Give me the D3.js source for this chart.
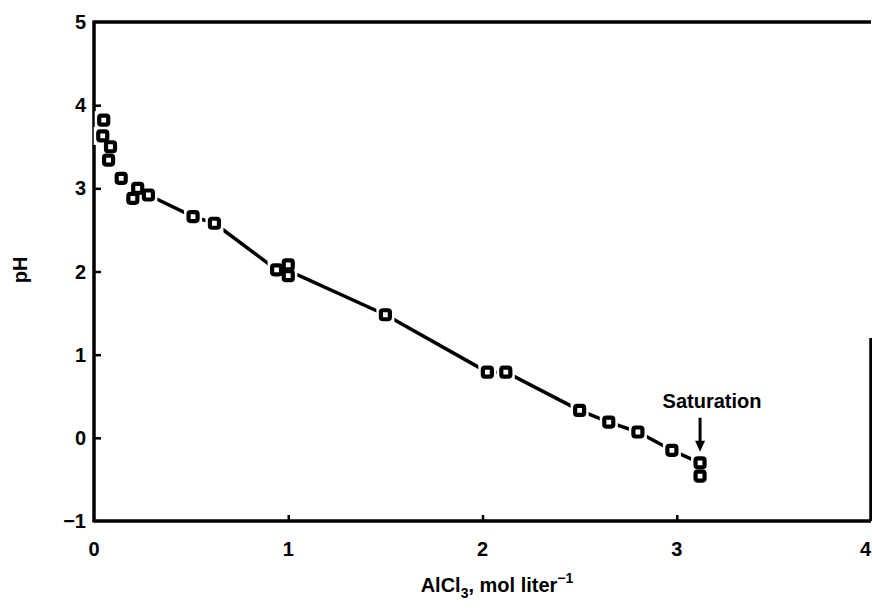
<!DOCTYPE html>
<html>
<head>
<meta charset="utf-8">
<script src="https://cdn.jsdelivr.net/npm/d3@7"></script>
<style>
    body { margin: 0; background: #fff; }
    .tickLabel { font-family: "Liberation Sans", Arial, sans-serif; font-weight: bold; font-size: 20px; fill: #000; }
</style>
</head>
<body>
<div id="chart"></div>
<script>
// AlCl3 concentration (mol/l) vs pH
const conc = [0.05, 0.045, 0.085, 0.075, 0.14, 0.225, 0.20, 0.28, 0.51, 0.62, 0.94, 1.0, 1.0, 1.5, 2.025, 2.12, 2.5, 2.65, 2.8, 2.975, 3.12, 3.12];
const ph = [3.82, 3.63, 3.50, 3.34, 3.12, 3.00, 2.88, 2.92, 2.66, 2.58, 2.02, 2.08, 1.95, 1.48, 0.79, 0.79, 0.33, 0.19, 0.07, -0.15, -0.30, -0.46];

// points the hand drawn curve passes through
const curveX = [0.28, 0.51, 0.62, 0.94, 1.0, 1.5, 2.025, 2.12, 2.5, 2.65, 2.8, 2.975, 3.12];
const curveY = [2.92, 2.66, 2.58, 2.02, 2.01, 1.48, 0.79, 0.79, 0.33, 0.19, 0.07, -0.15, -0.30];

const xTicks = [0, 1, 2, 3, 4];
const yTicks = [-1, 0, 1, 2, 3, 4, 5];
const yTickLabels = ["\u22121", "0", "1", "2", "3", "4", "5"];

const width = 872, height = 612;

let svg = d3.select("#chart").append("svg")
    .attr("width", width)
    .attr("height", height);

let x = d3.scaleLinear().domain([0, 4]).range([94, 871]);
let y = d3.scaleLinear().domain([-1, 5]).range([521, 22]);

// frame (right side only visible in the lower part of the scan)
let frame = svg.append("g")
    .attr("stroke", "#000")
    .attr("stroke-width", 3.5)
    .attr("fill", "none");
frame.append("line").attr("x1", x(0)).attr("x2", x(4)).attr("y1", y(5)).attr("y2", y(5));
frame.append("line").attr("x1", x(0)).attr("x2", x(0)).attr("y1", y(5) - 1.5).attr("y2", y(-1) + 1.5);
frame.append("line").attr("x1", x(0)).attr("x2", x(4)).attr("y1", y(-1)).attr("y2", y(-1));
frame.append("line").attr("x1", x(4)).attr("x2", x(4)).attr("y1", y(1.2)).attr("y2", y(-1));

// inward ticks
svg.append("g")
    .attr("transform", "translate(0," + y(-1) + ")")
    .call(d3.axisBottom(x).tickValues(xTicks.slice(1, -1)).tickSizeInner(-6).tickSizeOuter(0).tickFormat(""))
    .call(g => g.select(".domain").remove())
    .call(g => g.selectAll(".tick line").attr("stroke-width", 2.5));

svg.append("g")
    .attr("transform", "translate(" + x(0) + ",0)")
    .call(d3.axisLeft(y).tickValues(yTicks.slice(1, -1)).tickSizeInner(-7).tickSizeOuter(0).tickFormat(""))
    .call(g => g.select(".domain").remove())
    .call(g => g.selectAll(".tick line").attr("stroke-width", 2.5));

// tick labels
svg.selectAll(".xLabel")
    .data(xTicks)
    .enter()
    .append("text")
    .attr("class", "tickLabel")
    .attr("x", d => d === 4 ? width - 1 : x(d))
    .attr("y", 556)
    .attr("text-anchor", d => d === 4 ? "end" : "middle")
    .text(d => d);

svg.selectAll(".yLabel")
    .data(yTicks)
    .enter()
    .append("text")
    .attr("class", "tickLabel")
    .attr("x", 86)
    .attr("y", d => y(d) + 7)
    .attr("text-anchor", "end")
    .text((d, i) => yTickLabels[i]);

// axis titles
svg.append("text")
    .attr("class", "tickLabel")
    .attr("transform", "translate(27,270) rotate(-90)")
    .attr("text-anchor", "middle")
    .text("pH");

let xTitle = svg.append("text")
    .attr("class", "tickLabel")
    .attr("x", 497)
    .attr("y", 592)
    .attr("text-anchor", "middle");
xTitle.append("tspan").text("AlCl");
xTitle.append("tspan").attr("dy", 6).style("font-size", "14px").text("3");
xTitle.append("tspan").attr("dy", -6).text(", mol liter");
xTitle.append("tspan").attr("dy", -9).style("font-size", "14px").text("\u22121");

// curve
let curve = d3.line()
    .x(d => x(d[0]))
    .y(d => y(d[1]));

svg.append("path")
    .datum(curveX.map((d, i) => [d, curveY[i]]))
    .attr("d", curve)
    .attr("fill", "none")
    .attr("stroke", "#000")
    .attr("stroke-width", 3.5)
    .attr("stroke-linejoin", "round");

// white halo so the curve stops short of each marker
let pts = conc.map((d, i) => [d, ph[i]]);

svg.selectAll(".halo")
    .data(pts)
    .enter()
    .append("rect")
    .attr("x", d => x(d[0]) - 9)
    .attr("y", d => y(d[1]) - 9)
    .attr("width", 18)
    .attr("height", 18)
    .attr("fill", "#fff");

svg.selectAll(".marker")
    .data(pts)
    .enter()
    .append("rect")
    .attr("x", d => x(d[0]) - 4.5)
    .attr("y", d => y(d[1]) - 4.5)
    .attr("width", 9)
    .attr("height", 9)
    .attr("rx", 2)
    .attr("fill", "#fff")
    .attr("stroke", "#000")
    .attr("stroke-width", 4.2);

// saturation annotation
let satX = conc[conc.length - 2];
let satY = ph[ph.length - 2];

svg.append("text")
    .attr("class", "tickLabel")
    .attr("x", x(satX) + 12)
    .attr("y", y(satY) - 55)
    .attr("text-anchor", "middle")
    .text("Saturation");

svg.append("line")
    .attr("x1", x(satX))
    .attr("x2", x(satX))
    .attr("y1", y(satY) - 45)
    .attr("y2", y(satY) - 20)
    .attr("stroke", "#000")
    .attr("stroke-width", 3);

svg.append("path")
    .attr("d", "M" + (x(satX) - 5) + "," + (y(satY) - 22) + "L" + (x(satX) + 5) + "," + (y(satY) - 22) + "L" + x(satX) + "," + (y(satY) - 11) + "Z")
    .attr("fill", "#000");
</script>
</body>
</html>
